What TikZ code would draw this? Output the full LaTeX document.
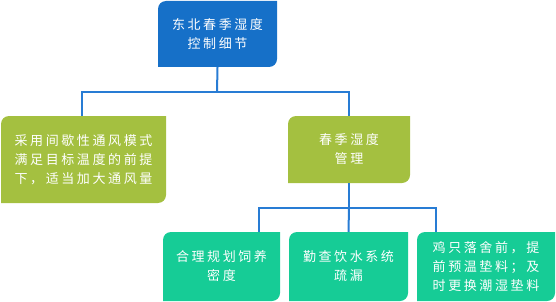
\documentclass[tikz,border=0pt]{standalone}
\usepackage{fontspec}
\newfontfamily\cjk[LetterSpace=20]{Noto Sans CJK SC}
\definecolor{rootblue}{RGB}{22,112,200}
\definecolor{olive}{RGB}{164,192,64}
\definecolor{teal}{RGB}{22,204,150}
\definecolor{linkblue}{RGB}{40,124,212}
\tikzset{
  txt/.style={rectangle, inner sep=0pt, text=white, align=center,
    font=\cjk\fontsize{13pt}{19pt}\selectfont},
  link/.style={draw=linkblue, line width=2pt}
}
\newcommand\leafbox[7]{%
  \fill[#6] (#2,-#5) -- (#2,-#3-8) arc[start angle=180,end angle=90,radius=8pt]
    -- (#4,-#3) -- (#4,-#5+8) arc[start angle=0,end angle=-90,radius=8pt] -- cycle;
  \node[txt, minimum width={(#4-#2)*1pt}, minimum height={(#5-#3)*1pt}]
    (#1) at ({(#2+#4)/2},{-(#3+#5)/2}) {#7};
}
\begin{document}
\begin{tikzpicture}[x=1pt,y=1pt]
\useasboundingbox (0,0) rectangle (556,-302);
\leafbox{root}{158}{1}{277}{67}{rootblue}{东北春季湿度\\控制细节}
\leafbox{left}{1}{116}{166}{203}{olive}{采用间歇性通风模式\\满足目标温度的前提\\下，适当加大通风量}
\leafbox{mid}{288}{116}{410}{183}{olive}{春季湿度\\管理}
\leafbox{ba}{163}{232}{280}{301}{teal}{合理规划饲养\\密度}
\leafbox{bb}{289}{232}{408}{301}{teal}{勤查饮水系统\\疏漏}
\leafbox{bc}{417}{232}{555}{301}{teal}{鸡只落舍前，提\\前预温垫料；及\\时更换潮湿垫料}
\coordinate (j1) at (217,-92);
\coordinate (j2) at (349,-208);
\draw[link] (root.south) -- (j1);
\draw[link] (j1) -| ([xshift=-2pt]left.north);
\draw[link] (j1) -| (mid.north);
\draw[link] (mid.south) -- (j2);
\draw[link] (j2) -| ([xshift=37.5pt]ba.north);
\draw[link] (j2) -- (bb.north);
\draw[link] (j2) -| ([xshift=-50pt]bc.north);
\end{tikzpicture}
\end{document}
